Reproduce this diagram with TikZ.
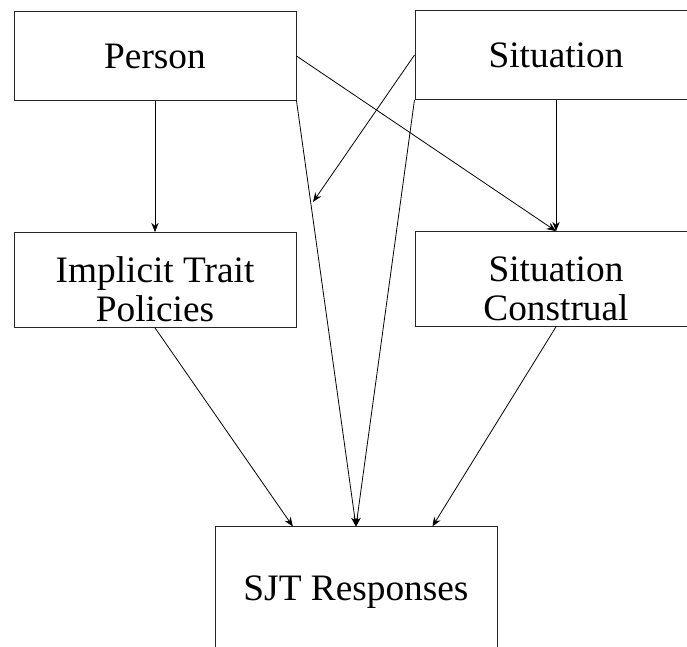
\documentclass[tikz,border=0pt]{standalone}
\usepackage{fontspec}
\setmainfont{Liberation Serif}
\usetikzlibrary{positioning, arrows.meta, calc}

\newcommand{\toppad}{\rule{0pt}{33pt}}

\begin{document}
\begin{tikzpicture}[x=0.75pt, y=0.75pt,
    every node/.style={font=\fontsize{28}{28}\selectfont},
    box/.style={rectangle, draw=black!85, line width=0.75pt, minimum width=211.5pt, align=center},
    top/.style={box, minimum height=66.5pt},
    mid/.style={box, minimum height=71pt},
    arrow/.style={-{Stealth[length=7pt, width=5.5pt]}, line width=0.6pt}]

  \clip (0,0) rectangle (687,647);

  \node[top] (person) at (155,591) {Person};
  \node[top] (sit) at (556,592) {Situation};
  \node[mid] (itp) at (155,367) {\toppad Implicit Trait\\[1.5pt]Policies};
  \node[mid] (constr) at (556,368) {\toppad Situation\\[1.5pt]Construal};
  \node[box, minimum height=97.5pt] (sjt) at (356,55) {SJT Responses};

  \coordinate (gap) at (313,445);
  \coordinate (sjtl) at ($(sjt.north west)!0.277!(sjt.north east)$);
  \coordinate (sjtr) at ($(sjt.north west)!0.77!(sjt.north east)$);

  \draw[arrow] (person.south) -- (itp.north);
  \draw[arrow] (sit.south) -- (constr.north);
  \draw[arrow] (person.east) -- (constr.north);
  \draw[arrow] (sit.west) -- (gap);
  \draw[arrow] (person.south east) -- (sjt.north);
  \draw[arrow] (sit.south west) -- (sjt.north);
  \draw[arrow] (itp.south) -- (sjtl);
  \draw[arrow] (constr.south) -- (sjtr);
\end{tikzpicture}
\end{document}
